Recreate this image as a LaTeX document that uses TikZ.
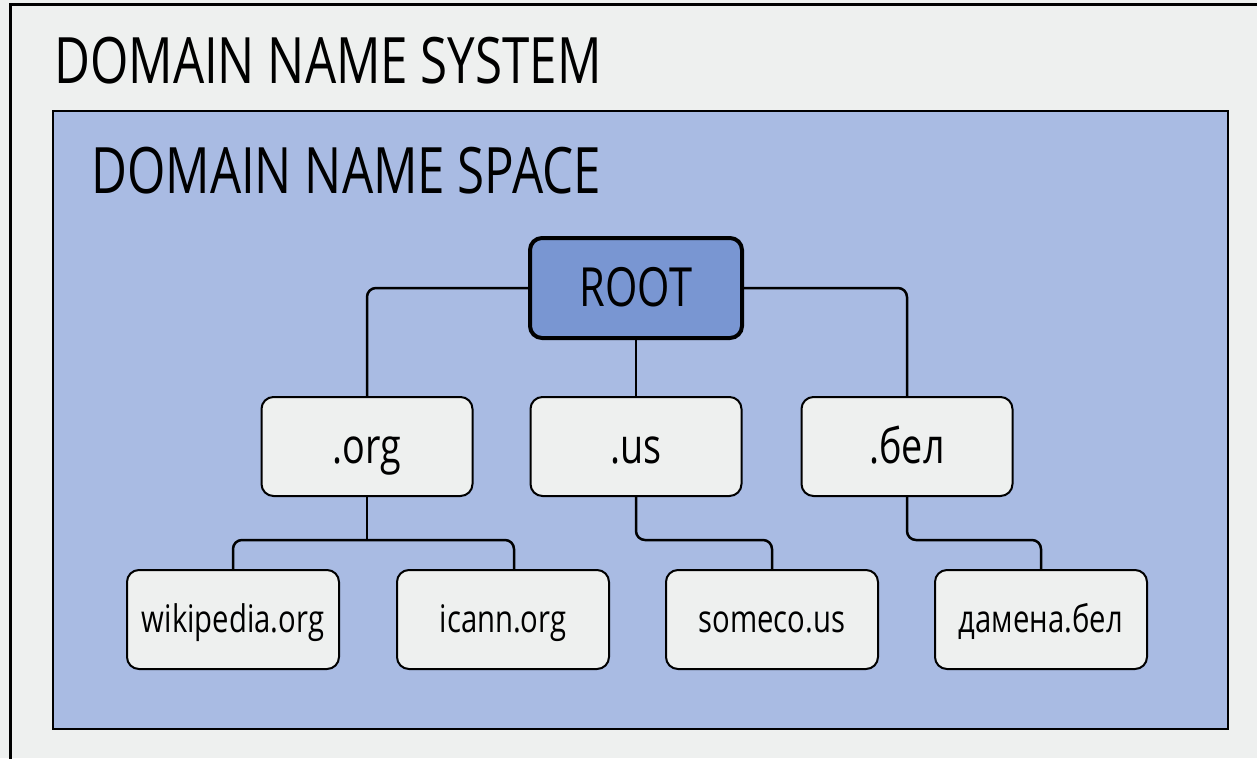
\documentclass[tikz,border=0pt]{standalone}
\usepackage{fontspec}
\setmainfont[FakeStretch=0.77]{Open Sans}
\usetikzlibrary{positioning}
\definecolor{dnsgray}{RGB}{238,240,239}
\definecolor{dnsblue}{RGB}{169,187,227}
\definecolor{dnsroot}{RGB}{121,150,210}
\tikzset{
  rootbox/.style={fill=dnsroot, draw=black, line width=4pt, rounded corners=12pt,
    minimum width=212pt, minimum height=100pt, text height=36pt, text depth=0pt,
    font=\fontsize{54}{60}\selectfont},
  tld/.style={fill=dnsgray, draw=black, line width=2pt, rounded corners=12pt,
    minimum width=211pt, minimum height=99pt, text height=33pt, text depth=0pt,
    font=\fontsize{49}{54}\selectfont},
  leaf/.style={fill=dnsgray, draw=black, line width=2pt, rounded corners=12pt,
    minimum width=212pt, minimum height=99pt, text height=25pt, text depth=0pt,
    font=\fontsize{38}{44}\selectfont},
  link/.style={draw=black, line width=2.5pt, rounded corners=9pt},
  heading/.style={anchor=base west, inner sep=0pt, font=\fontsize{64}{70}\selectfont}
}

\begin{document}
\begin{tikzpicture}[x=1pt,y=-1pt]
  \useasboundingbox[fill=dnsgray] (0,0) rectangle (1257,758);
  \draw[line width=3pt] (10,4) rectangle (1300,800);

  \node[heading] (system) at (54,83) {DOMAIN NAME SYSTEM};
  \draw[fill=dnsblue, line width=2pt] (53,111) rectangle (1228,729);
  \node[heading] (space) at (91,193) {DOMAIN NAME SPACE};

  % tree
  \node[rootbox] (root) at (636,288) {ROOT};

  \node[tld, below=56pt of root] (us) {.us};
  \node[tld, left=56pt of us] (org) {.org};
  \node[tld, right=58pt of us] (bel) {.бел};

  \node[leaf, below=72pt of us, xshift=136pt] (someco) {someco.us};
  \node[leaf, left=55pt of someco] (icann) {icann.org};
  \node[leaf, left=56pt of icann] (wiki) {wikipedia.org};
  \node[leaf, right=55pt of someco] (damena) {дамена.бел};

  \draw[link] (root.west) -| (org.north);
  \draw[link] (root.east) -| (bel.north);
  \draw[link] (root.south) -- (us.north);

  \draw[link] (org.south) -- ++(0,43) coordinate (orgfork);
  \draw[link] (wiki.north) |- (orgfork) -| ([xshift=11pt]icann.north);
  \draw[link] (us.south) -- ++(0,43) -| (someco.north);
  \draw[link] (bel.south) -- ++(0,43) -| (damena.north);
\end{tikzpicture}
\end{document}
